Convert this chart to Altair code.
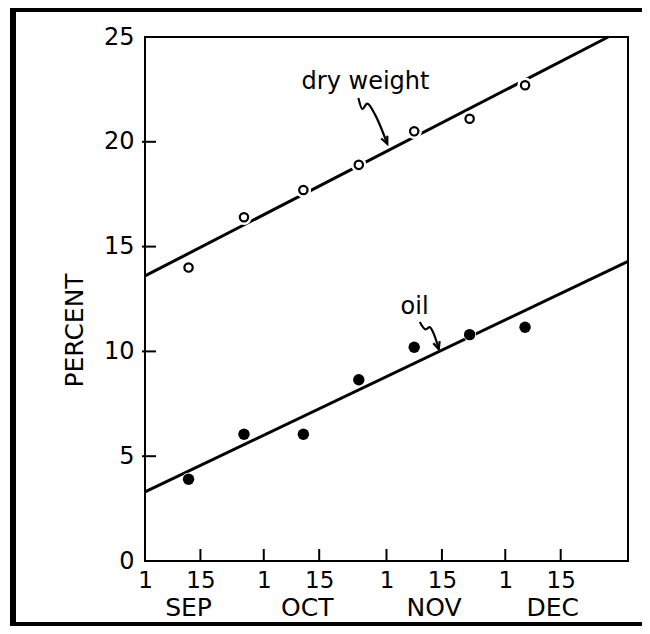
import altair as alt
import pandas as pd

# ---------------- data ----------------
season_start = "2000-09-01"
season_end = "2001-01-01"

sample_dates = ["2000-09-12", "2000-09-26", "2000-10-11", "2000-10-25",
                "2000-11-08", "2000-11-22", "2000-12-06"]
dry_weight = [14.0, 16.4, 17.7, 18.9, 20.5, 21.1, 22.7]
oil = [3.9, 6.05, 6.05, 8.65, 10.2, 10.8, 11.15]

dry_fit_dates = ["2000-09-01", "2000-12-27"]
dry_fit = [13.6, 25.0]
oil_fit_dates = ["2000-09-01", "2001-01-01"]
oil_fit = [3.3, 14.3]

tick_dates = ["2000-09-01", "2000-09-15", "2000-10-01", "2000-10-15",
              "2000-11-01", "2000-11-15", "2000-12-01", "2000-12-15"]
month_names = ["SEP", "OCT", "NOV", "DEC"]
month_label_dates = ["2000-09-12", "2000-10-12", "2000-11-13", "2000-12-13"]
y_tick_values = [0, 5, 10, 15, 20, 25]
y_inner_ticks = [5, 10, 15, 20]

# annotations (day of season, percent)
ann_text = ["dry weight", "oil"]
ann_day = [55.7, 68.1]
ann_val = [22.5, 11.77]
dry_arrow_day = [53.9, 54.9, 56.1, 58.2, 61.2]
dry_arrow_val = [22.09, 21.56, 21.82, 21.26, 19.9]
oil_arrow_day = [69.4, 70.9, 71.9, 73.0, 74.2]
oil_arrow_val = [11.40, 11.05, 11.16, 10.81, 10.10]

# ---------------- helpers ----------------
t0 = pd.Timestamp(season_start)


def day(d):
    return (pd.Timestamp(d) - t0).days


x_max = day(season_end)
W, H = 483, 524
FONT = "DejaVu Sans"
WEIGHT = "normal"
PAD_L, PAD_T, PAD_R, PAD_B = 137, 29, 14, 65

pts = pd.DataFrame({
    "day": [day(d) for d in sample_dates] * 2,
    "value": dry_weight + oil,
    "series": ["dry weight"] * len(dry_weight) + ["oil"] * len(oil),
})
fits = pd.DataFrame({
    "day": [day(d) for d in dry_fit_dates] + [day(d) for d in oil_fit_dates],
    "value": dry_fit + oil_fit,
    "series": ["dry weight"] * 2 + ["oil"] * 2,
})
tick_days = [day(d) for d in tick_dates]
fifteen_days = [day(d) for d in tick_dates if pd.Timestamp(d).day == 15]
months = pd.DataFrame({"day": [day(d) for d in month_label_dates], "m": month_names})
arrows = pd.DataFrame({
    "day": dry_arrow_day + oil_arrow_day,
    "value": dry_arrow_val + oil_arrow_val,
    "arrow": ["dry"] * len(dry_arrow_day) + ["oil"] * len(oil_arrow_day),
    "idx": list(range(len(dry_arrow_day))) + list(range(len(oil_arrow_day))),
})
heads = pd.DataFrame({
    "day": [dry_arrow_day[-1], oil_arrow_day[-1]],
    "value": [dry_arrow_val[-1], oil_arrow_val[-1]],
    "ang": [336, 342],
})
labels = pd.DataFrame({"day": ann_day, "value": ann_val, "t": ann_text})

xs = alt.Scale(domain=[0, x_max], nice=False, zero=False)
ys = alt.Scale(domain=[0, 25], nice=False, zero=True)

label_expr = "indexof(" + str(fifteen_days) + ", datum.value) >= 0 ? '15' : '1'"

x_axis = alt.Axis(values=tick_days, labelExpr=label_expr, title=None, grid=False,
                  domain=False, ticks=False, tickSize=0, labelPadding=8,
                  labelFlush=False, labelFontSize=23, labelFont=FONT,
                  labelFontWeight=WEIGHT, labelColor="black")
y_axis = alt.Axis(values=y_tick_values, title="PERCENT", grid=False, domain=False,
                  ticks=False, tickSize=0, labelPadding=11, labelFlush=False,
                  labelFontSize=24, labelFont=FONT, labelFontWeight=WEIGHT,
                  labelColor="black",
                  titleFont=FONT, titleFontSize=25, titleFontWeight=WEIGHT,
                  titleColor="black", titleAngle=270, titleAlign="center",
                  titleBaseline="middle", titleX=-71, titleY=293)

X = alt.X("day:Q", scale=xs, axis=x_axis)
Y = alt.Y("value:Q", scale=ys, axis=y_axis)
Xn = alt.X("day:Q", scale=xs)
Yn = alt.Y("value:Q", scale=ys)

fit_lines = alt.Chart(fits).mark_line(color="black", strokeWidth=3).encode(
    x=X, y=Y, detail="series:N")

halo = alt.Chart(pts).mark_point(filled=True, shape="circle", color="white", opacity=1).encode(
    x=Xn, y=Yn,
    size=alt.Size("series:N", scale=alt.Scale(domain=["dry weight", "oil"], range=[240, 170]), legend=None))

dry_pts = alt.Chart(pts).transform_filter(alt.datum.series == "dry weight").mark_point(
    shape="circle", filled=False, fill="white", fillOpacity=1, stroke="black",
    strokeWidth=2.2, size=70, opacity=1).encode(x=Xn, y=Yn)
oil_pts = alt.Chart(pts).transform_filter(alt.datum.series == "oil").mark_point(
    shape="circle", filled=True, color="black", size=130, opacity=1).encode(x=Xn, y=Yn)

y_ticks_layer = alt.Chart(pd.DataFrame({"value": y_inner_ticks})).mark_rule(
    color="black", strokeWidth=2).encode(y=Yn, x=alt.value(-3), x2=alt.value(11))
x_ticks_layer = alt.Chart(pd.DataFrame({"day": tick_days[1:]})).mark_rule(
    color="black", strokeWidth=2).encode(x=Xn, y=alt.value(H), y2=alt.value(H - 12))

month_layer = alt.Chart(months).mark_text(
    font=FONT, fontSize=25, fontWeight=WEIGHT, color="black", baseline="alphabetic").encode(
    x=Xn, y=alt.value(H + 55), text="m:N")

arrow_lines = alt.Chart(arrows).mark_line(color="black", strokeWidth=2.2, interpolate="monotone").encode(
    x=Xn, y=Yn, detail="arrow:N", order="idx:Q")
arrow_heads = alt.Chart(heads).mark_point(
    shape="M -0.45 -1 L 0 0 L 0.45 -1", filled=False, stroke="black",
    strokeWidth=2.2, size=220, opacity=1).encode(x=Xn, y=Yn, angle=alt.Angle("ang:Q", scale=None))
ann_labels = alt.Chart(labels).mark_text(
    font=FONT, fontSize=24, fontWeight=WEIGHT, color="black", baseline="alphabetic").encode(
    x=Xn, y=Yn, text="t:N")

# outer frame of the figure (left, top, bottom bars)
one = pd.DataFrame({"a": [0]})
frame_left = alt.Chart(one).mark_rect(color="black").encode(
    x=alt.value(-135), x2=alt.value(-129), y=alt.value(-PAD_T), y2=alt.value(H + PAD_B))
frame_top = alt.Chart(one).mark_rect(color="black").encode(
    x=alt.value(-135), x2=alt.value(W + PAD_R), y=alt.value(-PAD_T), y2=alt.value(-PAD_T + 4))
frame_bottom = alt.Chart(one).mark_rect(color="black").encode(
    x=alt.value(-135), x2=alt.value(W + PAD_R), y=alt.value(H + PAD_B - 4), y2=alt.value(H + PAD_B))

chart = alt.layer(
    fit_lines, halo, dry_pts, oil_pts, y_ticks_layer, x_ticks_layer, month_layer,
    arrow_lines, arrow_heads, ann_labels, frame_left, frame_top, frame_bottom,
).properties(
    width=W, height=H,
    autosize=alt.AutoSizeParams(type="none"),
    padding={"left": PAD_L, "top": PAD_T, "right": PAD_R, "bottom": PAD_B},
    background="white",
).configure_view(
    stroke="black", strokeWidth=2
)

chart.save("out.html", embed_options={"renderer": "svg", "actions": False})
